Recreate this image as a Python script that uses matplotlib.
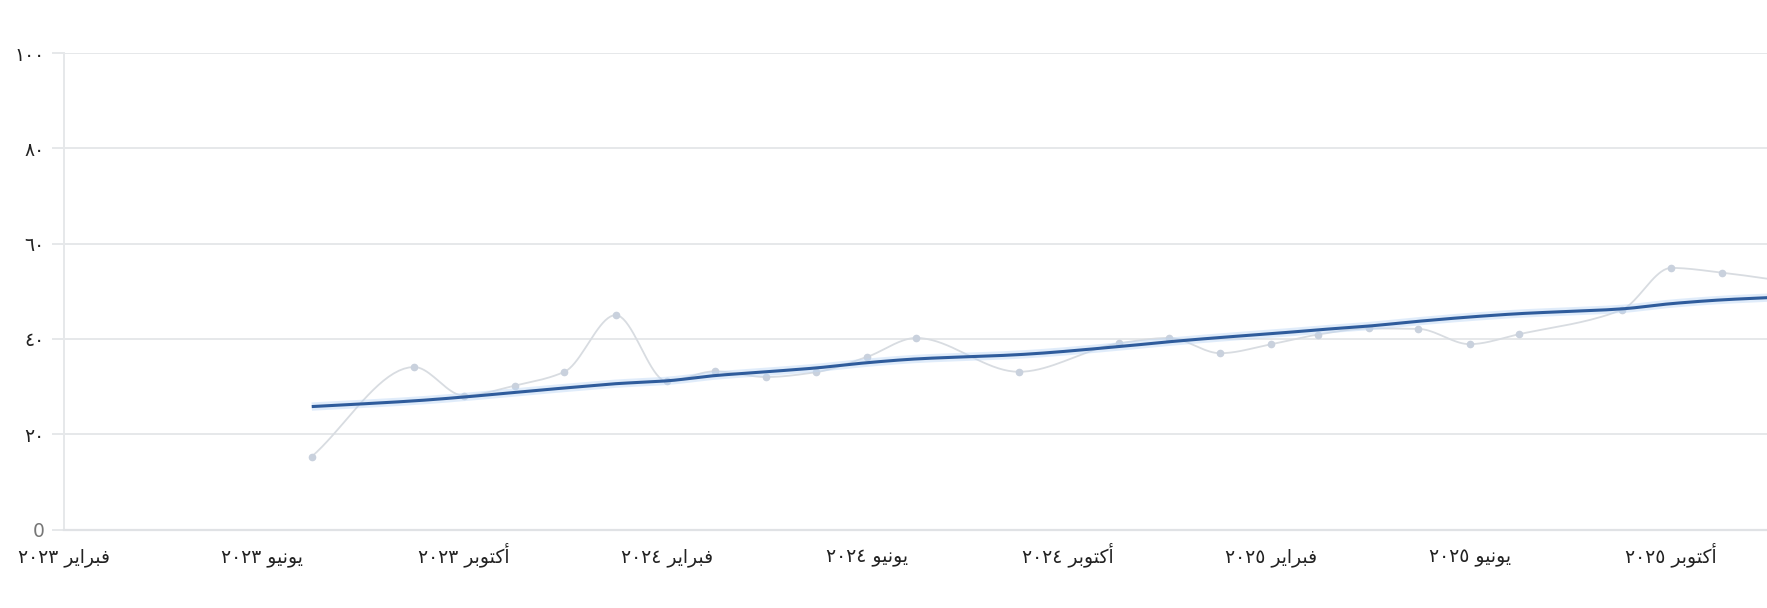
import numpy as np
import pandas as pd
import matplotlib
matplotlib.use("Agg")
import matplotlib.pyplot as plt
import matplotlib.dates as mdates

# ---- Data ----
months = ["2023-07", "2023-09", "2023-10", "2023-11", "2023-12",
          "2024-01", "2024-02", "2024-03", "2024-04", "2024-05", "2024-06", "2024-07",
          "2024-09", "2024-11", "2024-12",
          "2025-01", "2025-02", "2025-03", "2025-04", "2025-05", "2025-06", "2025-07",
          "2025-09", "2025-10", "2025-11", "2025-12"]
values = [15.3, 34.1, 28.1, 30.2, 33.1,
          45.0, 31.1, 33.2, 32.0, 33.0, 36.2, 40.2,
          33.1, 39.1, 40.2,
          37.0, 38.9, 40.9, 42.2, 42.1, 38.9, 41.0,
          46.1, 54.9, 53.9, 52.5]
trend = [25.8, 27.0, 27.8, 28.8, 29.7,
         30.6, 31.2, 32.3, 33.1, 33.9, 35.0, 35.8,
         36.7, 38.4, 39.4,
         40.3, 41.1, 41.9, 42.7, 43.7, 44.6, 45.3,
         46.3, 47.4, 48.2, 48.7]

tick_months = ["2023-02", "2023-06", "2023-10", "2024-02", "2024-06",
               "2024-10", "2025-02", "2025-06", "2025-10"]
tick_labels = ["فبراير ٢٠٢٣", "يونيو ٢٠٢٣", "أكتوبر ٢٠٢٣",
               "فبراير ٢٠٢٤", "يونيو ٢٠٢٤", "أكتوبر ٢٠٢٤",
               "فبراير ٢٠٢٥", "يونيو ٢٠٢٥", "أكتوبر ٢٠٢٥"]
y_ticks = [0, 20, 40, 60, 80, 100]
y_labels = ["0", "٢٠", "٤٠", "٦٠", "٨٠", "١٠٠"]

# ---- Arabic shaping (matplotlib has no bidi/shaping) ----
FORMS = {  # isolated, final, initial, medial
    "ا": ("\uFE8D", "\uFE8E", None, None),
    "أ": ("\uFE83", "\uFE84", None, None),
    "ب": ("\uFE8F", "\uFE90", "\uFE91", "\uFE92"),
    "ت": ("\uFE95", "\uFE96", "\uFE97", "\uFE98"),
    "ر": ("\uFEAD", "\uFEAE", None, None),
    "ف": ("\uFED1", "\uFED2", "\uFED3", "\uFED4"),
    "ك": ("\uFED9", "\uFEDA", "\uFEDB", "\uFEDC"),
    "ن": ("\uFEE5", "\uFEE6", "\uFEE7", "\uFEE8"),
    "و": ("\uFEED", "\uFEEE", None, None),
    "ي": ("\uFEF1", "\uFEF2", "\uFEF3", "\uFEF4"),
}


def shape_word(w):
    out = []
    for i, ch in enumerate(w):
        iso, fin, ini, med = FORMS[ch]
        joins_prev = i > 0 and FORMS[w[i - 1]][2] is not None
        joins_next = i < len(w) - 1 and ini is not None
        if joins_prev and joins_next:
            out.append(med)
        elif joins_prev:
            out.append(fin)
        elif joins_next:
            out.append(ini)
        else:
            out.append(iso)
    return "".join(reversed(out))


def rtl_label(s):
    word, num = s.split(" ")
    return num + " " + shape_word(word)


def monotone(x, y, n=20):
    # monotone cubic (Fritsch-Carlson) for the smooth curve look
    x = np.asarray(x, float); y = np.asarray(y, float)
    h = np.diff(x); d = np.diff(y) / h
    m = np.zeros_like(y)
    m[0], m[-1] = d[0], d[-1]
    for k in range(1, len(y) - 1):
        if d[k - 1] * d[k] <= 0:
            m[k] = 0
        else:
            w1 = 2 * h[k] + h[k - 1]; w2 = h[k] + 2 * h[k - 1]
            m[k] = (w1 + w2) / (w1 / d[k - 1] + w2 / d[k])
    xs, ys = [], []
    for k in range(len(h)):
        t = np.linspace(0, 1, n, endpoint=False)
        h00 = 2*t**3 - 3*t**2 + 1; h10 = t**3 - 2*t**2 + t
        h01 = -2*t**3 + 3*t**2; h11 = t**3 - t**2
        xs.append(x[k] + t * h[k])
        ys.append(h00*y[k] + h10*h[k]*m[k] + h01*y[k+1] + h11*h[k]*m[k+1])
    xs.append([x[-1]]); ys.append([y[-1]])
    return np.concatenate(xs), np.concatenate(ys)


x = mdates.date2num(pd.to_datetime(months))
xt = mdates.date2num(pd.to_datetime(tick_months))

plt.rcParams["font.family"] = ["DejaVu Sans"]
fig = plt.figure(figsize=(17.67, 6.08), dpi=100)
ax = fig.add_axes([0.0362, 0.1291, 0.9638, 0.7837])

grid_c = "#e6e8ea"
for yv in y_ticks[1:]:
    ax.axhline(yv, color=grid_c, lw=1.4, zorder=0)

sx, sy = monotone(x, values)
ax.plot(sx, sy, color="#d8dce1", lw=1.3, zorder=2)
ax.plot(x, values, "o", ms=4.5, color="#c9d1dd", zorder=3)

tx, ty = monotone(x, trend)
ax.plot(tx, ty, color="#bcd6f5", lw=6, alpha=0.45, zorder=4, solid_capstyle="butt")
ax.plot(tx, ty, color="#2f5c9c", lw=2.2, zorder=5, solid_capstyle="butt")

x0 = mdates.date2num(pd.Timestamp("2023-02-01"))
ax.set_xlim(x0, x0 + 1031)
ax.set_ylim(0, 100)

for s in ["top", "right"]:
    ax.spines[s].set_visible(False)
ax.spines["left"].set_color(grid_c)
ax.spines["left"].set_linewidth(1.4)
ax.spines["bottom"].set_color("#e0e2e5")
ax.spines["bottom"].set_linewidth(1.6)

ax.set_yticks(y_ticks)
ax.set_yticklabels(y_labels, fontsize=13.5, color="#222222")
ax.get_yticklabels()[0].set_color("#777777")
ax.tick_params(axis="y", length=9, width=1.4, color=grid_c, pad=5)

ax.set_xticks(xt)
ax.set_xticklabels([rtl_label(t) for t in tick_labels], fontsize=13.5, color="#222222")
ax.tick_params(axis="x", length=0, pad=24)
for lbl in ax.get_xticklabels():
    lbl.set_verticalalignment("baseline")

fig.savefig("out.png", dpi=100, facecolor="white")
